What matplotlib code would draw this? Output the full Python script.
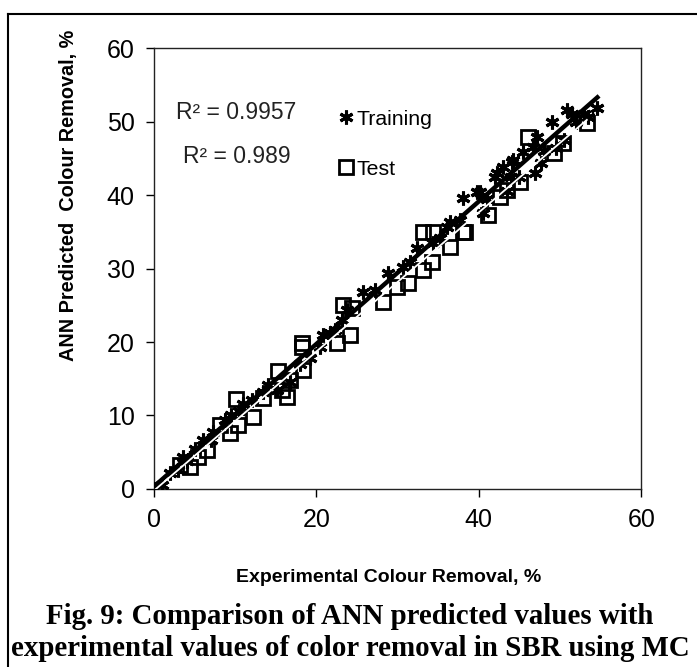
import matplotlib
matplotlib.use("Agg")
import matplotlib.pyplot as plt
import numpy as np
from matplotlib.lines import Line2D

plt.rcParams["font.family"] = ["Liberation Sans", "DejaVu Sans"]

# experimental vs ANN-predicted colour removal (%)
train_exp = [0.0, 1.0, 2.0, 3.0, 3.6, 4.0, 5.0, 6.0, 7.0, 7.3, 8.7, 9.5, 10.5, 11.0,
             12.1, 13.4, 14.0, 15.2, 16.8, 18.0, 19.2, 20.5, 20.8, 21.7, 22.3, 23.2,
             23.8, 25.7, 27.2, 28.8, 30.6, 31.5, 32.4, 34.4, 35.2, 36.1, 36.5, 37.7,
             38.1, 39.8, 40.2, 40.5, 41.0, 42.0, 42.2, 43.0, 43.5, 44.0, 44.1, 44.2,
             45.0, 45.5, 46.7, 46.9, 47.2, 47.6, 48.0, 49.0, 49.5, 50.5, 50.9, 51.5,
             52.0, 53.0, 53.5, 54.6]
train_ann = [0.0, 0.6, 2.2, 2.6, 4.4, 3.8, 5.5, 6.7, 6.6, 7.8, 9.4, 10.0, 10.6, 11.5,
             12.1, 13.2, 14.1, 13.5, 14.6, 17.0, 17.8, 19.3, 21.0, 21.2, 21.6, 23.0,
             24.4, 26.8, 27.1, 29.4, 30.2, 30.9, 32.8, 33.5, 34.2, 35.6, 36.3, 36.6,
             39.6, 40.4, 40.4, 37.6, 39.5, 42.4, 43.0, 43.8, 40.6, 42.5, 44.5, 44.8,
             42.4, 45.9, 46.5, 43.0, 47.9, 44.4, 46.0, 49.9, 46.4, 47.5, 51.6, 51.0,
             50.0, 51.0, 50.6, 51.8]

test_exp = [3.2, 4.4, 5.4, 6.5, 8.1, 9.4, 10.1, 10.3, 12.2, 13.4, 15.3, 15.8, 16.4,
            16.8, 18.2, 18.2, 18.4, 22.5, 23.3, 24.1, 24.4, 28.2, 29.9, 31.3, 33.1,
            33.1, 34.2, 34.4, 36.5, 38.1, 38.3, 41.1, 42.6, 43.5, 45.1, 46.1, 49.2,
            50.4, 53.3]
test_ann = [3.3, 3.0, 4.4, 5.3, 8.7, 7.6, 12.2, 8.7, 9.8, 12.4, 16.0, 13.5, 12.5,
            14.8, 19.3, 19.8, 16.2, 19.9, 25.0, 21.0, 24.6, 25.4, 27.5, 28.0, 35.0,
            29.8, 30.9, 35.0, 32.9, 35.0, 35.0, 37.3, 39.7, 40.7, 41.8, 47.9, 45.7,
            47.1, 49.8]

r2_labels = ["R\u00b2 = 0.9957", "R\u00b2 = 0.989"]

fig = plt.figure(figsize=(6.97, 6.67), dpi=100)
ax = fig.add_axes([0.221, 0.2669, 0.699, 0.661])

star = (6, 2, 0)
ax.plot(train_exp, train_ann, linestyle="none", marker=star, ms=10, mew=2.2,
        color="black", label="Training", zorder=3)
ax.plot(test_exp, test_ann, linestyle="none", marker="s", ms=10, mew=2,
        mfc="none", mec="black", label="Test", zorder=3)

# linear trend lines for both sets
for xs, ys, col, lw in [(train_exp, train_ann, "black", 3.2),
                        (test_exp, test_ann, "white", 1.3)]:
    k, b = np.polyfit(xs, ys, 1)
    xl = np.array([0.0, max(xs)])
    ax.plot(xl, k * xl + b, color=col, lw=lw, zorder=4)

ax.set_xlim(0, 60)
ax.set_ylim(0, 60)
ax.set_xticks([0, 20, 40, 60])
ax.set_yticks(range(0, 61, 10))
ax.tick_params(direction="out", length=6, width=1, labelsize=18,
               top=False, right=False, pad=8)
for s in ax.spines.values():
    s.set_color("#222222")
    s.set_linewidth(1)

ax.text(0.045, 0.855, r2_labels[0], transform=ax.transAxes, fontsize=16.5,
        va="center", ha="left", color="#222222")
ax.text(0.060, 0.755, r2_labels[1], transform=ax.transAxes, fontsize=16.5,
        va="center", ha="left", color="#222222")

ax.legend(loc="upper left", bbox_to_anchor=(0.38, 0.86), frameon=False,
          fontsize=15.3, handlelength=0.6, handletextpad=0.2, labelspacing=1.45,
          borderpad=0, borderaxespad=0)

fig.text(389 / 697, 1 - 578 / 667, "Experimental Colour Removal, %",
         ha="center", va="center", fontsize=14, fontweight="bold")
fig.text(69 / 697, 1 - 195 / 667, "ANN Predicted  Colour Removal, %",
         ha="center", va="center", rotation=90, fontsize=14.3, fontweight="bold")

cap = dict(ha="center", va="center", fontsize=20.8, fontweight="bold",
           family=["Liberation Serif", "DejaVu Serif"])
fig.text(350 / 697, 1 - 616 / 667, "Fig. 9: Comparison of ANN predicted values with", **cap)
fig.text(350 / 697, 1 - 649 / 667, "experimental values of color removal in SBR using MC", **cap)

# page frame
fig.add_artist(Line2D([8 / 697, 8 / 697], [0, 1 - 14 / 667], color="black", lw=1.5))
fig.add_artist(Line2D([8 / 697, 1], [1 - 14 / 667, 1 - 14 / 667], color="black", lw=1.5))

fig.savefig("out.png", dpi=100)
